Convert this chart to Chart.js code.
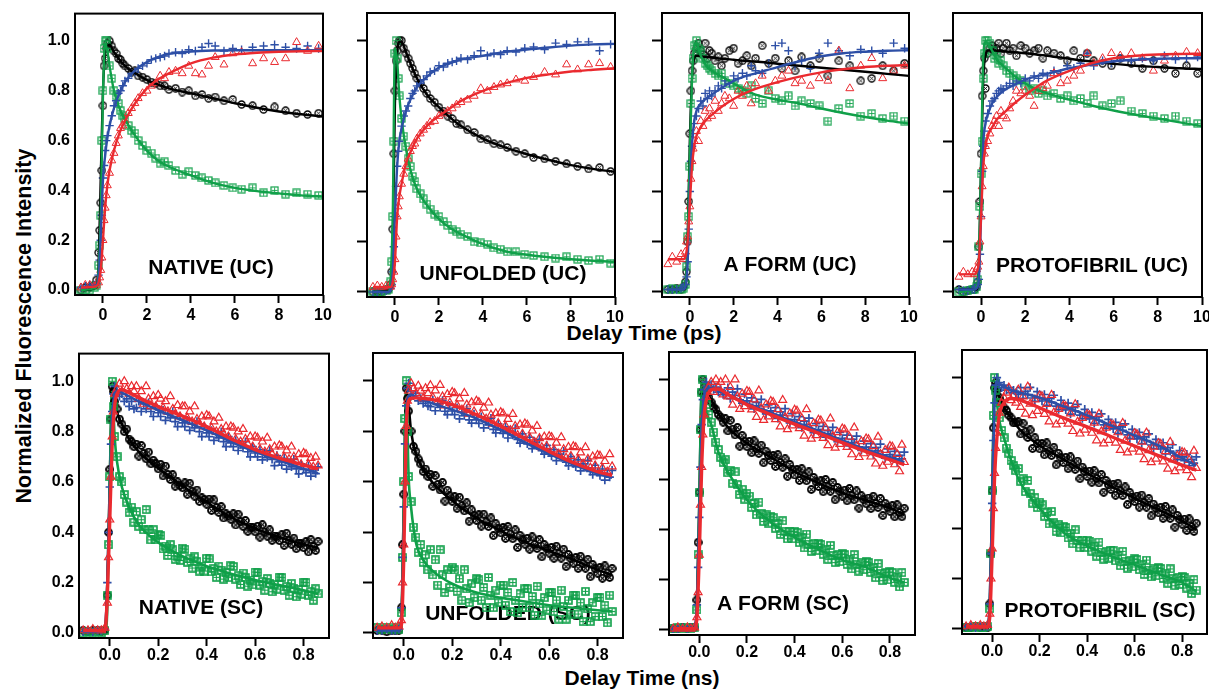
<!DOCTYPE html>
<html>
<head>
<meta charset="utf-8">
<title>Fluorescence decay panels</title>
<script src="https://cdn.jsdelivr.net/npm/chart.js@4.4.1/dist/chart.umd.min.js"></script>
<style>
  body { margin: 0; background: #fff; }
  #page { position: relative; width: 1209px; height: 689px; overflow: hidden; background: #fff; }
  #page canvas { position: absolute; }
  .title { position: absolute; font: bold 21px "Liberation Sans", Arial, sans-serif; color: #000; white-space: nowrap; line-height: 21px; }
</style>
</head>
<body>
<div id="page">
  <div class="title" style="left:644px; top:322px; transform:translateX(-50%)">Delay Time (ps)</div>
  <div class="title" style="left:642px; top:667px; transform:translateX(-50%)">Delay Time (ns)</div>
  <div class="title" style="left:24px; top:326px; font-size:21.5px; transform:translate(-50%,-50%) rotate(-90deg)">Normalized Fluorescence Intensity</div>
</div>
<script>
/************************/
/*     Data             */
/************************/

// tick labels
var ucTicks = [0, 2, 4, 6, 8, 10];
var scTicks = [0, 0.2, 0.4, 0.6, 0.8];
var yTicks = [0, 0.2, 0.4, 0.6, 0.8, 1.0];

// upconversion (ps) sampling
var ucTime = [-1.0, -0.8, -0.6, -0.4, -0.3, -0.2, -0.15, -0.1, -0.05, 0,
              0.05, 0.1, 0.15, 0.2, 0.3, 0.4, 0.5, 0.6, 0.7, 0.8,
              0.9, 1.0, 1.15, 1.3, 1.45, 1.6, 1.8, 2.0, 2.2, 2.4,
              2.6, 2.8, 3.0, 3.3, 3.6, 3.9, 4.2, 4.5, 4.8, 5.1,
              5.5, 5.9, 6.3, 6.8, 7.3, 7.8, 8.3, 8.8, 9.3, 9.8];
var ucFitTime = [-1.0, -0.3, -0.2, -0.1, 0, 0.1, 0.2, 0.3, 0.5, 0.75,
                 1.0, 1.5, 2.0, 2.5, 3.0, 4.0, 5.0, 6.0, 7.0, 8.0,
                 9.0, 10.0];

// single photon counting (ns) sampling
var scTime = [-0.11, -0.09, -0.07, -0.05, -0.035, -0.02, -0.01, -0.005, 0,
              0.005, 0.01, 0.015, 0.02, 0.03, 0.04, 0.05, 0.06, 0.07, 0.08, 0.09, 0.1,
              0.11, 0.12, 0.13, 0.14, 0.15, 0.16, 0.17, 0.18, 0.19, 0.2,
              0.21, 0.22, 0.23, 0.24, 0.25, 0.26, 0.27, 0.28, 0.29, 0.3,
              0.31, 0.32, 0.33, 0.34, 0.35, 0.36, 0.37, 0.38, 0.39, 0.4,
              0.41, 0.42, 0.43, 0.44, 0.45, 0.46, 0.47, 0.48, 0.49, 0.5,
              0.51, 0.52, 0.53, 0.54, 0.55, 0.56, 0.57, 0.58, 0.59, 0.6,
              0.61, 0.62, 0.63, 0.64, 0.65, 0.66, 0.67, 0.68, 0.69, 0.7,
              0.71, 0.72, 0.73, 0.74, 0.75, 0.76, 0.77, 0.78, 0.79, 0.8,
              0.81, 0.82, 0.83, 0.84, 0.85, 0.86];
var scFitTime = [-0.11, -0.02, -0.01, 0, 0.01, 0.02, 0.03, 0.05, 0.08, 0.12,
                 0.2, 0.3, 0.4, 0.5, 0.6, 0.7, 0.8, 0.86];

// NATIVE (UC)
var nativeUcBlack = [0.0, 0.01, 0.01, 0.02, 0.04, 0.15, 0.24, 0.35, 0.48, 0.74,
                     0.9, 0.93, 0.97, 0.99, 1.0, 0.98, 0.96, 0.95, 0.93, 0.925,
                     0.91, 0.9, 0.89, 0.875, 0.88, 0.86, 0.855, 0.845, 0.835, 0.83,
                     0.82, 0.82, 0.805, 0.81, 0.795, 0.8, 0.78, 0.785, 0.77, 0.775,
                     0.76, 0.765, 0.745, 0.74, 0.725, 0.735, 0.72, 0.71, 0.705, 0.71];
var nativeUcBlue = [0.01, 0.015, 0.02, 0.02, 0.025, 0.06, 0.12, 0.2, 0.3, 0.45,
                    0.5, 0.56, 0.6, 0.62, 0.66, 0.7, 0.74, 0.76, 0.79, 0.8,
                    0.82, 0.84, 0.85, 0.87, 0.875, 0.89, 0.9, 0.91, 0.925, 0.93,
                    0.935, 0.94, 0.95, 0.955, 0.95, 0.965, 0.96, 0.975, 0.99, 0.98,
                    0.96, 0.97, 0.965, 0.975, 0.98, 0.985, 0.975, 0.97, 0.98, 0.97];
var nativeUcRed = [0.01, 0.02, 0.02, 0.015, 0.02, 0.03, 0.05, 0.08, 0.13, 0.2,
                   0.28, 0.33, 0.38, 0.42, 0.47, 0.52, 0.55, 0.59, 0.62, 0.65,
                   0.66, 0.68, 0.71, 0.73, 0.75, 0.77, 0.79, 0.8, 0.82, 0.83,
                   0.86, 0.85, 0.875, 0.88, 0.87, 0.9, 0.87, 0.865, 0.9, 0.935,
                   0.905, 0.95, 0.955, 0.91, 0.93, 0.915, 0.93, 0.995, 0.96, 0.98];
var nativeUcGreen = [0.0, 0.0, 0.0, 0.01, 0.02, 0.1, 0.18, 0.3, 0.6, 0.8,
                     0.97, 1.0, 1.0, 0.97, 0.9, 0.85, 0.8, 0.78, 0.75, 0.72,
                     0.7, 0.69, 0.66, 0.64, 0.63, 0.6, 0.58, 0.56, 0.55, 0.53,
                     0.51, 0.515, 0.5, 0.48, 0.465, 0.475, 0.46, 0.45, 0.44, 0.43,
                     0.42, 0.41, 0.405, 0.41, 0.39, 0.4, 0.385, 0.39, 0.385, 0.38];
var nativeUcBlackFit = [0, 0.01, 0.1, 0.45, 0.8, 0.95, 0.978, 0.985, 0.955, 0.925,
                        0.9, 0.868, 0.843, 0.825, 0.81, 0.79, 0.77, 0.75, 0.732, 0.717, 0.706, 0.697];
var nativeUcBlueFit = [0.01, 0.02, 0.05, 0.22, 0.44, 0.54, 0.61, 0.66, 0.73, 0.79,
                       0.835, 0.885, 0.915, 0.935, 0.948, 0.958, 0.962, 0.963, 0.963, 0.963, 0.963, 0.963];
var nativeUcRedFit = [0.01, 0.015, 0.03, 0.08, 0.2, 0.33, 0.42, 0.48, 0.56, 0.63,
                      0.68, 0.755, 0.81, 0.845, 0.87, 0.91, 0.933, 0.946, 0.953, 0.957, 0.959, 0.96];
var nativeUcGreenFit = [0, 0.01, 0.08, 0.3, 0.78, 0.99, 0.96, 0.9, 0.8, 0.73,
                        0.685, 0.615, 0.56, 0.52, 0.495, 0.46, 0.43, 0.41, 0.397, 0.388, 0.38, 0.375];

// UNFOLDED (UC)
var unfoldedUcBlack = [0.0, 0.0, 0.0, 0.01, 0.01, 0.03, 0.08, 0.25, 0.55, 0.8,
                       0.92, 0.96, 0.99, 1.0, 1.0, 0.97, 0.95, 0.93, 0.91, 0.89,
                       0.87, 0.85, 0.83, 0.81, 0.79, 0.77, 0.755, 0.735, 0.72, 0.7,
                       0.69, 0.67, 0.665, 0.645, 0.635, 0.61, 0.605, 0.59, 0.585, 0.575,
                       0.56, 0.55, 0.535, 0.53, 0.52, 0.51, 0.5, 0.49, 0.495, 0.48];
var unfoldedUcBlue = [0.0, 0.0, 0.005, 0.005, 0.01, 0.015, 0.03, 0.08, 0.18, 0.3,
                      0.42, 0.5, 0.56, 0.6, 0.66, 0.7, 0.72, 0.74, 0.77, 0.79,
                      0.8, 0.82, 0.83, 0.845, 0.86, 0.875, 0.88, 0.9, 0.895, 0.91,
                      0.915, 0.92, 0.93, 0.925, 0.94, 0.96, 0.94, 0.95, 0.945, 0.96,
                      0.955, 0.97, 0.975, 0.965, 0.99, 0.985, 0.995, 0.995, 0.96, 0.985];
var unfoldedUcRed = [0.02, 0.025, 0.02, 0.025, 0.02, 0.02, 0.03, 0.05, 0.08, 0.13,
                     0.22, 0.3, 0.34, 0.38, 0.43, 0.47, 0.5, 0.53, 0.56, 0.58,
                     0.59, 0.61, 0.63, 0.645, 0.66, 0.675, 0.68, 0.7, 0.71, 0.72,
                     0.73, 0.745, 0.755, 0.765, 0.78, 0.81, 0.8, 0.815, 0.825, 0.83,
                     0.845, 0.84, 0.855, 0.875, 0.865, 0.905, 0.885, 0.905, 0.91, 0.895];
var unfoldedUcGreen = [0.0, 0.0, 0.0, 0.005, 0.01, 0.04, 0.12, 0.3, 0.6, 0.95,
                       1.0, 0.93, 0.85, 0.78, 0.69, 0.62, 0.58, 0.53, 0.5, 0.46,
                       0.44, 0.41, 0.39, 0.37, 0.35, 0.33, 0.31, 0.3, 0.28, 0.265,
                       0.25, 0.24, 0.23, 0.22, 0.2, 0.195, 0.19, 0.175, 0.17, 0.16,
                       0.16, 0.15, 0.145, 0.14, 0.135, 0.14, 0.13, 0.125, 0.13, 0.115];
var unfoldedUcBlackFit = [0, 0.005, 0.02, 0.2, 0.75, 0.95, 0.995, 0.995, 0.955, 0.9,
                          0.85, 0.78, 0.735, 0.695, 0.66, 0.61, 0.575, 0.548, 0.525, 0.505, 0.49, 0.478];
var unfoldedUcBlueFit = [0, 0, 0.01, 0.08, 0.3, 0.5, 0.6, 0.65, 0.72, 0.775,
                         0.815, 0.86, 0.893, 0.91, 0.925, 0.94, 0.955, 0.965, 0.973, 0.98, 0.985, 0.987];
var unfoldedUcRedFit = [0.02, 0.02, 0.02, 0.04, 0.12, 0.3, 0.38, 0.43, 0.51, 0.565,
                        0.61, 0.665, 0.7, 0.73, 0.76, 0.8, 0.83, 0.852, 0.866, 0.877, 0.884, 0.89];
var unfoldedUcGreenFit = [0, 0, 0.05, 0.3, 0.97, 0.92, 0.78, 0.69, 0.57, 0.47,
                          0.41, 0.34, 0.29, 0.255, 0.23, 0.19, 0.162, 0.148, 0.138, 0.13, 0.124, 0.12];

// A FORM (UC)
var aformUcBlack = [0.01, 0.01, 0.015, 0.01, 0.02, 0.04, 0.08, 0.2, 0.36, 0.63,
                    0.8, 0.88, 0.92, 0.95, 0.97, 0.99, 0.96, 0.945, 0.99, 0.93,
                    0.96, 0.95, 0.92, 0.935, 0.9, 0.93, 0.96, 0.97, 0.91, 0.92,
                    0.94, 0.9, 0.93, 0.98, 0.91, 0.93, 0.89, 0.92, 0.88, 0.935,
                    0.9, 0.93, 0.86, 0.92, 0.9, 0.84, 0.85, 0.9, 0.88, 0.91];
var aformUcBlue = [0.01, 0.01, 0.01, 0.015, 0.02, 0.03, 0.06, 0.12, 0.25, 0.4,
                   0.52, 0.58, 0.63, 0.67, 0.7, 0.73, 0.76, 0.74, 0.79, 0.77,
                   0.8, 0.78, 0.8, 0.82, 0.81, 0.84, 0.83, 0.86, 0.85, 0.87,
                   0.86, 0.9, 0.88, 0.87, 0.91, 0.98, 0.99, 0.96, 0.9, 0.92,
                   0.89, 0.95, 0.99, 0.96, 0.94, 0.965, 0.96, 0.95, 0.99, 0.97];
var aformUcRed = [0.11, 0.14, 0.12, 0.15, 0.13, 0.16, 0.2, 0.22, 0.28, 0.34,
                  0.45, 0.52, 0.57, 0.6, 0.64, 0.6, 0.68, 0.66, 0.72, 0.69,
                  0.73, 0.7, 0.76, 0.72, 0.75, 0.78, 0.77, 0.74, 0.8, 0.78,
                  0.82, 0.75, 0.83, 0.86, 0.8, 0.84, 0.86, 0.88, 0.83, 0.84,
                  0.82, 0.85, 0.84, 0.96, 0.81, 0.9, 0.93, 0.85, 0.88, 0.9];
var aformUcGreen = [0.01, 0.015, 0.01, 0.01, 0.015, 0.03, 0.1, 0.22, 0.3, 0.5,
                    0.75, 0.85, 0.93, 0.98, 1.0, 0.97, 0.96, 0.93, 0.91, 0.9,
                    0.89, 0.88, 0.87, 0.86, 0.87, 0.84, 0.83, 0.82, 0.81, 0.8,
                    0.79, 0.82, 0.77, 0.75, 0.8, 0.77, 0.76, 0.78, 0.74, 0.76,
                    0.75, 0.74, 0.68, 0.73, 0.75, 0.7, 0.71, 0.69, 0.7, 0.68];
var aformUcBlackFit = [0.01, 0.01, 0.02, 0.2, 0.6, 0.85, 0.93, 0.94, 0.938, 0.935,
                       0.933, 0.928, 0.924, 0.92, 0.917, 0.908, 0.9, 0.892, 0.884, 0.876, 0.868, 0.86];
var aformUcBlueFit = [0.01, 0.01, 0.02, 0.12, 0.4, 0.59, 0.68, 0.72, 0.75, 0.77,
                      0.785, 0.815, 0.84, 0.858, 0.87, 0.895, 0.918, 0.938, 0.95, 0.956, 0.96, 0.962];
var aformUcRedFit = [0.13, 0.13, 0.14, 0.2, 0.35, 0.5, 0.58, 0.62, 0.655, 0.685,
                     0.705, 0.74, 0.768, 0.79, 0.808, 0.835, 0.857, 0.874, 0.886, 0.895, 0.9, 0.903];
var aformUcGreenFit = [0.01, 0.01, 0.03, 0.2, 0.55, 0.85, 0.98, 0.99, 0.94, 0.9,
                       0.88, 0.855, 0.83, 0.805, 0.785, 0.765, 0.75, 0.73, 0.712, 0.696, 0.682, 0.67];

// PROTOFIBRIL (UC)
var protoUcBlack = [0.01, 0.0, 0.005, 0.01, 0.01, 0.02, 0.04, 0.18, 0.36, 0.55,
                    0.78, 0.88, 0.93, 0.81, 0.95, 0.97, 0.98, 0.96, 0.97, 0.99,
                    0.95, 0.97, 0.99, 0.96, 0.97, 0.94, 0.98, 0.97, 0.95, 0.96,
                    0.97, 0.93, 0.96, 0.95, 0.94, 0.92, 0.96, 0.93, 0.95, 0.92,
                    0.91, 0.9, 0.93, 0.91, 0.89, 0.92, 0.89, 0.87, 0.9, 0.87];
var protoUcBlue = [0.01, 0.005, 0.005, 0.01, 0.01, 0.02, 0.03, 0.05, 0.15, 0.3,
                   0.48, 0.58, 0.64, 0.68, 0.71, 0.74, 0.76, 0.77, 0.79, 0.8,
                   0.81, 0.805, 0.82, 0.83, 0.82, 0.84, 0.83, 0.85, 0.84, 0.86,
                   0.85, 0.87, 0.86, 0.88, 0.87, 0.9, 0.89, 0.91, 0.95, 0.9,
                   0.92, 0.91, 0.93, 0.92, 0.93, 0.92, 0.94, 0.925, 0.93, 0.935];
var protoUcRed = [0.06, 0.08, 0.07, 0.08, 0.07, 0.09, 0.1, 0.12, 0.2, 0.3,
                  0.42, 0.5, 0.55, 0.58, 0.6, 0.63, 0.66, 0.68, 0.7, 0.66,
                  0.72, 0.7, 0.69, 0.73, 0.76, 0.8, 0.79, 0.8, 0.78, 0.74,
                  0.8, 0.81, 0.82, 0.87, 0.83, 0.84, 0.86, 0.88, 0.95, 0.91,
                  0.93, 0.95, 0.94, 0.95, 0.93, 0.88, 0.92, 0.94, 0.955, 0.95];
var protoUcGreen = [0.0, 0.0, 0.005, 0.01, 0.01, 0.02, 0.05, 0.18, 0.34, 0.47,
                    0.6, 0.85, 0.95, 1.0, 1.0, 0.99, 0.96, 0.93, 0.94, 0.91,
                    0.92, 0.9, 0.88, 0.87, 0.86, 0.85, 0.84, 0.82, 0.8, 0.81,
                    0.79, 0.8, 0.78, 0.79, 0.77, 0.78, 0.76, 0.77, 0.75, 0.78,
                    0.74, 0.75, 0.76, 0.72, 0.71, 0.7, 0.69, 0.7, 0.68, 0.67];
var protoUcBlackFit = [0.01, 0.01, 0.01, 0.1, 0.5, 0.85, 0.94, 0.96, 0.962, 0.96,
                       0.958, 0.954, 0.95, 0.945, 0.94, 0.928, 0.917, 0.908, 0.9, 0.895, 0.89, 0.887];
var protoUcBlueFit = [0.01, 0.01, 0.015, 0.05, 0.3, 0.59, 0.67, 0.705, 0.75, 0.78,
                      0.8, 0.825, 0.845, 0.858, 0.868, 0.89, 0.905, 0.918, 0.924, 0.928, 0.93, 0.93];
var protoUcRedFit = [0.07, 0.07, 0.08, 0.12, 0.3, 0.5, 0.58, 0.62, 0.655, 0.69,
                     0.71, 0.75, 0.785, 0.815, 0.842, 0.88, 0.91, 0.93, 0.94, 0.945, 0.947, 0.948];
var protoUcGreenFit = [0, 0.01, 0.02, 0.1, 0.5, 0.93, 0.995, 0.99, 0.96, 0.92,
                       0.9, 0.86, 0.83, 0.806, 0.79, 0.765, 0.742, 0.722, 0.705, 0.69, 0.675, 0.66];

// NATIVE (SC)
var nativeScRed = [0.01, 0.01, 0.015, 0.01, 0.01, 0.02, 0.12, 0.3, 0.45,
                   0.62, 0.78, 0.88, 0.95, 0.97, 0.99, 0.96, 1.0, 0.97, 0.95, 0.98, 0.96,
                   0.98, 0.93, 0.96, 0.91, 0.98, 0.93, 0.9, 0.94, 0.9, 0.945,
                   0.93, 0.895, 0.92, 0.88, 0.94, 0.89, 0.87, 0.905, 0.86, 0.9,
                   0.9, 0.855, 0.88, 0.84, 0.9, 0.85, 0.83, 0.86, 0.82, 0.865,
                   0.86, 0.815, 0.84, 0.8, 0.855, 0.81, 0.79, 0.82, 0.78, 0.82,
                   0.815, 0.77, 0.8, 0.76, 0.81, 0.77, 0.75, 0.78, 0.74, 0.78,
                   0.775, 0.73, 0.76, 0.72, 0.775, 0.73, 0.71, 0.74, 0.7, 0.745,
                   0.74, 0.7, 0.725, 0.69, 0.74, 0.7, 0.68, 0.71, 0.67, 0.715,
                   0.71, 0.67, 0.695, 0.66, 0.7, 0.665];
var nativeScBlue = [0.005, 0.01, 0.005, 0.01, 0.01, 0.015, 0.2, 0.4, 0.58,
                    0.75, 0.88, 0.95, 0.98, 0.96, 0.94, 0.95, 0.92, 0.93, 0.9, 0.92, 0.89,
                    0.895, 0.92, 0.88, 0.91, 0.89, 0.915, 0.88, 0.86, 0.9, 0.875,
                    0.86, 0.885, 0.845, 0.87, 0.855, 0.88, 0.84, 0.82, 0.86, 0.835,
                    0.82, 0.845, 0.805, 0.83, 0.815, 0.84, 0.8, 0.78, 0.82, 0.795,
                    0.78, 0.805, 0.765, 0.79, 0.775, 0.8, 0.76, 0.74, 0.78, 0.755,
                    0.74, 0.765, 0.725, 0.75, 0.735, 0.76, 0.72, 0.7, 0.74, 0.715,
                    0.7, 0.728, 0.688, 0.714, 0.697, 0.725, 0.69, 0.665, 0.705, 0.68,
                    0.667, 0.694, 0.651, 0.678, 0.66, 0.69, 0.652, 0.632, 0.672, 0.65,
                    0.637, 0.665, 0.623, 0.648, 0.633, 0.66];
var nativeScBlack = [0.01, 0.005, 0.01, 0.01, 0.005, 0.01, 0.15, 0.4, 0.65,
                     0.85, 0.98, 0.96, 0.92, 0.89, 0.85, 0.83, 0.8, 0.81, 0.77, 0.76, 0.74,
                     0.75, 0.703, 0.745, 0.713, 0.692, 0.719, 0.672, 0.686, 0.673, 0.652,
                     0.67, 0.624, 0.663, 0.63, 0.61, 0.629, 0.583, 0.6, 0.587, 0.577,
                     0.596, 0.551, 0.595, 0.563, 0.544, 0.568, 0.523, 0.537, 0.53, 0.512,
                     0.532, 0.487, 0.529, 0.498, 0.479, 0.502, 0.457, 0.473, 0.465, 0.452,
                     0.473, 0.429, 0.472, 0.442, 0.424, 0.447, 0.404, 0.421, 0.42, 0.402,
                     0.424, 0.381, 0.43, 0.401, 0.385, 0.41, 0.368, 0.385, 0.383, 0.367,
                     0.39, 0.348, 0.396, 0.368, 0.353, 0.377, 0.335, 0.356, 0.355, 0.339,
                     0.363, 0.322, 0.371, 0.343, 0.328, 0.364];
var nativeScGreen = [0.0, 0.005, 0.0, 0.005, 0.0, 0.01, 0.15, 0.35, 0.62,
                     0.85, 1.0, 0.9, 0.78, 0.7, 0.62, 0.6, 0.55, 0.52, 0.48, 0.5, 0.44,
                     0.482, 0.424, 0.45, 0.41, 0.49, 0.41, 0.37, 0.41, 0.37, 0.392,
                     0.387, 0.334, 0.345, 0.308, 0.351, 0.33, 0.293, 0.305, 0.288, 0.337,
                     0.333, 0.281, 0.294, 0.258, 0.302, 0.283, 0.246, 0.266, 0.246, 0.297,
                     0.294, 0.243, 0.256, 0.221, 0.265, 0.249, 0.214, 0.24, 0.22, 0.267,
                     0.264, 0.214, 0.227, 0.193, 0.238, 0.22, 0.186, 0.21, 0.191, 0.242,
                     0.24, 0.19, 0.204, 0.17, 0.216, 0.198, 0.164, 0.192, 0.174, 0.222,
                     0.22, 0.17, 0.184, 0.15, 0.196, 0.178, 0.144, 0.172, 0.154, 0.202,
                     0.2, 0.15, 0.164, 0.13, 0.175, 0.155];
var nativeScBlackFit = [0.01, 0.01, 0.2, 0.6, 0.95, 0.95, 0.88, 0.83, 0.77, 0.72,
                        0.655, 0.585, 0.52, 0.46, 0.415, 0.38, 0.352, 0.338];
var nativeScBlueFit = [0.005, 0.01, 0.2, 0.55, 0.85, 0.95, 0.96, 0.955, 0.94, 0.92,
                       0.885, 0.845, 0.805, 0.76, 0.72, 0.685, 0.652, 0.635];
var nativeScRedFit = [0.01, 0.01, 0.15, 0.45, 0.75, 0.9, 0.95, 0.967, 0.955, 0.935,
                      0.9, 0.862, 0.82, 0.772, 0.728, 0.695, 0.668, 0.652];
var nativeScGreenFit = [0, 0, 0.1, 0.6, 0.98, 0.78, 0.68, 0.58, 0.5, 0.43,
                        0.36, 0.305, 0.265, 0.235, 0.21, 0.19, 0.17, 0.155];

// UNFOLDED (SC)
var unfoldedScRed = [0.02, 0.025, 0.02, 0.03, 0.02, 0.025, 0.05, 0.2, 0.35,
                     0.6, 0.82, 0.92, 0.96, 0.99, 0.97, 0.95, 0.98, 0.96, 0.93, 0.97, 0.95,
                     0.982, 0.934, 0.961, 0.916, 0.983, 0.937, 0.901, 0.946, 0.913, 0.955,
                     0.95, 0.903, 0.929, 0.885, 0.951, 0.905, 0.869, 0.914, 0.878, 0.92,
                     0.915, 0.866, 0.893, 0.849, 0.913, 0.865, 0.829, 0.871, 0.832, 0.875,
                     0.87, 0.821, 0.848, 0.804, 0.868, 0.82, 0.784, 0.826, 0.789, 0.83,
                     0.825, 0.775, 0.802, 0.757, 0.82, 0.772, 0.736, 0.778, 0.741, 0.78,
                     0.776, 0.727, 0.754, 0.71, 0.776, 0.728, 0.694, 0.737, 0.701, 0.74,
                     0.736, 0.688, 0.715, 0.671, 0.736, 0.69, 0.655, 0.699, 0.664, 0.705,
                     0.702, 0.654, 0.681, 0.639, 0.708, 0.66];
var unfoldedScBlue = [0.01, 0.01, 0.015, 0.01, 0.01, 0.015, 0.1, 0.3, 0.5,
                      0.75, 0.9, 0.97, 0.99, 0.96, 0.94, 0.95, 0.92, 0.93, 0.91, 0.92, 0.9,
                      0.897, 0.924, 0.881, 0.908, 0.895, 0.922, 0.879, 0.866, 0.903, 0.88,
                      0.866, 0.893, 0.849, 0.876, 0.862, 0.889, 0.845, 0.832, 0.868, 0.845,
                      0.831, 0.857, 0.813, 0.839, 0.825, 0.851, 0.807, 0.793, 0.829, 0.805,
                      0.791, 0.817, 0.773, 0.799, 0.785, 0.811, 0.767, 0.753, 0.789, 0.765,
                      0.75, 0.776, 0.731, 0.757, 0.742, 0.768, 0.723, 0.709, 0.744, 0.715,
                      0.701, 0.727, 0.683, 0.709, 0.695, 0.721, 0.677, 0.663, 0.699, 0.672,
                      0.659, 0.686, 0.643, 0.67, 0.657, 0.684, 0.641, 0.628, 0.665, 0.638,
                      0.624, 0.65, 0.606, 0.632, 0.618, 0.645];
var unfoldedScBlack = [0.01, 0.01, 0.005, 0.01, 0.01, 0.01, 0.1, 0.35, 0.55,
                       0.8, 0.97, 0.93, 0.88, 0.8, 0.74, 0.72, 0.69, 0.67, 0.64, 0.65, 0.62,
                       0.629, 0.581, 0.624, 0.589, 0.567, 0.597, 0.523, 0.566, 0.544, 0.522,
                       0.54, 0.494, 0.538, 0.505, 0.484, 0.516, 0.443, 0.488, 0.467, 0.447,
                       0.468, 0.424, 0.471, 0.44, 0.422, 0.456, 0.386, 0.433, 0.415, 0.397,
                       0.418, 0.375, 0.422, 0.392, 0.374, 0.409, 0.339, 0.387, 0.369, 0.352,
                       0.375, 0.332, 0.381, 0.351, 0.335, 0.37, 0.302, 0.35, 0.334, 0.317,
                       0.339, 0.296, 0.344, 0.314, 0.297, 0.332, 0.263, 0.311, 0.294, 0.277,
                       0.299, 0.256, 0.304, 0.274, 0.257, 0.292, 0.223, 0.271, 0.254, 0.237,
                       0.26, 0.217, 0.266, 0.237, 0.22, 0.256];
var unfoldedScGreen = [0.02, 0.015, 0.02, 0.015, 0.02, 0.015, 0.08, 0.3, 0.6,
                       0.85, 1.0, 0.8, 0.62, 0.52, 0.42, 0.38, 0.32, 0.35, 0.28, 0.31, 0.25,
                       0.33, 0.23, 0.29, 0.19, 0.33, 0.23, 0.16, 0.25, 0.18, 0.26,
                       0.25, 0.165, 0.215, 0.13, 0.25, 0.175, 0.12, 0.195, 0.14, 0.215,
                       0.21, 0.13, 0.18, 0.1, 0.22, 0.15, 0.1, 0.17, 0.12, 0.19,
                       0.19, 0.11, 0.16, 0.085, 0.2, 0.13, 0.08, 0.155, 0.1, 0.175,
                       0.175, 0.1, 0.145, 0.07, 0.185, 0.115, 0.07, 0.14, 0.09, 0.16,
                       0.16, 0.085, 0.13, 0.055, 0.17, 0.105, 0.055, 0.13, 0.075, 0.15,
                       0.15, 0.075, 0.12, 0.045, 0.165, 0.095, 0.045, 0.12, 0.065, 0.14,
                       0.14, 0.065, 0.11, 0.04, 0.15, 0.085];
var unfoldedScBlackFit = [0.01, 0.01, 0.05, 0.5, 0.95, 0.9, 0.8, 0.71, 0.65, 0.595,
                          0.525, 0.455, 0.405, 0.36, 0.325, 0.29, 0.25, 0.23];
var unfoldedScBlueFit = [0.01, 0.01, 0.05, 0.4, 0.85, 0.94, 0.945, 0.935, 0.925, 0.91,
                         0.885, 0.85, 0.805, 0.755, 0.71, 0.668, 0.632, 0.615];
var unfoldedScRedFit = [0.02, 0.02, 0.03, 0.3, 0.8, 0.92, 0.93, 0.932, 0.93, 0.925,
                        0.905, 0.865, 0.82, 0.77, 0.72, 0.675, 0.64, 0.625];
var unfoldedScGreenFit = [0.015, 0.015, 0.05, 0.5, 0.98, 0.62, 0.5, 0.36, 0.29, 0.245,
                          0.195, 0.16, 0.14, 0.125, 0.11, 0.1, 0.09, 0.085];

// A FORM (SC)
var aformScRed = [0.005, 0.01, 0.005, 0.01, 0.005, 0.01, 0.05, 0.15, 0.3,
                  0.5, 0.65, 0.78, 0.86, 0.93, 0.97, 0.99, 0.95, 1.0, 0.97, 0.99, 0.94,
                  1.0, 0.932, 0.97, 0.899, 1.0, 0.932, 0.882, 0.943, 0.893, 0.954,
                  0.95, 0.88, 0.92, 0.85, 0.956, 0.886, 0.838, 0.9, 0.852, 0.914,
                  0.91, 0.841, 0.881, 0.812, 0.918, 0.849, 0.801, 0.864, 0.816, 0.879,
                  0.875, 0.805, 0.845, 0.775, 0.881, 0.811, 0.763, 0.825, 0.777, 0.839,
                  0.836, 0.766, 0.807, 0.737, 0.844, 0.774, 0.727, 0.789, 0.742, 0.804,
                  0.8, 0.73, 0.771, 0.701, 0.808, 0.738, 0.69, 0.753, 0.705, 0.764,
                  0.761, 0.692, 0.733, 0.664, 0.771, 0.702, 0.655, 0.718, 0.671, 0.734,
                  0.731, 0.661, 0.702, 0.633, 0.739, 0.67];
var aformScBlue = [0.005, 0.005, 0.01, 0.005, 0.01, 0.01, 0.1, 0.25, 0.45,
                   0.65, 0.82, 0.92, 0.96, 0.99, 0.97, 0.98, 0.96, 0.97, 0.95, 0.96, 0.94,
                   0.941, 0.967, 0.924, 0.95, 0.937, 0.963, 0.919, 0.906, 0.942, 0.915,
                   0.901, 0.927, 0.883, 0.909, 0.895, 0.921, 0.877, 0.863, 0.899, 0.875,
                   0.862, 0.888, 0.845, 0.871, 0.858, 0.884, 0.841, 0.827, 0.864, 0.84,
                   0.826, 0.852, 0.808, 0.834, 0.82, 0.846, 0.802, 0.788, 0.824, 0.8,
                   0.787, 0.813, 0.77, 0.796, 0.783, 0.809, 0.766, 0.752, 0.789, 0.765,
                   0.752, 0.778, 0.735, 0.761, 0.748, 0.774, 0.731, 0.717, 0.754, 0.73,
                   0.717, 0.744, 0.701, 0.728, 0.715, 0.742, 0.699, 0.686, 0.723, 0.7,
                   0.687, 0.713, 0.67, 0.697, 0.683, 0.71];
var aformScBlack = [0.005, 0.005, 0.01, 0.005, 0.01, 0.01, 0.12, 0.35, 0.55,
                    0.8, 0.95, 1.0, 0.97, 0.94, 0.93, 0.91, 0.89, 0.88, 0.86, 0.85, 0.83,
                    0.843, 0.795, 0.837, 0.802, 0.779, 0.809, 0.734, 0.777, 0.754, 0.732,
                    0.753, 0.708, 0.755, 0.723, 0.705, 0.738, 0.668, 0.714, 0.696, 0.677,
                    0.697, 0.653, 0.7, 0.669, 0.65, 0.684, 0.614, 0.661, 0.642, 0.619,
                    0.64, 0.597, 0.644, 0.614, 0.596, 0.631, 0.561, 0.609, 0.591, 0.573,
                    0.595, 0.552, 0.601, 0.571, 0.554, 0.589, 0.52, 0.569, 0.552, 0.535,
                    0.558, 0.516, 0.565, 0.536, 0.52, 0.555, 0.487, 0.536, 0.52, 0.504,
                    0.527, 0.485, 0.534, 0.505, 0.489, 0.525, 0.457, 0.506, 0.49, 0.474,
                    0.496, 0.452, 0.5, 0.469, 0.452, 0.486];
var aformScGreen = [0.005, 0.01, 0.005, 0.01, 0.005, 0.01, 0.08, 0.3, 0.55,
                    0.8, 0.95, 1.0, 0.97, 0.9, 0.86, 0.83, 0.79, 0.75, 0.72, 0.69, 0.67,
                    0.679, 0.628, 0.637, 0.586, 0.631, 0.58, 0.541, 0.562, 0.523, 0.544,
                    0.535, 0.49, 0.505, 0.46, 0.511, 0.466, 0.433, 0.46, 0.427, 0.454,
                    0.448, 0.406, 0.424, 0.382, 0.436, 0.394, 0.364, 0.394, 0.364, 0.394,
                    0.389, 0.349, 0.368, 0.328, 0.383, 0.343, 0.314, 0.346, 0.317, 0.346,
                    0.342, 0.302, 0.322, 0.282, 0.338, 0.297, 0.269, 0.301, 0.273, 0.304,
                    0.301, 0.262, 0.283, 0.244, 0.301, 0.262, 0.235, 0.268, 0.241, 0.274,
                    0.27, 0.23, 0.25, 0.209, 0.265, 0.225, 0.197, 0.229, 0.2, 0.232,
                    0.229, 0.19, 0.211, 0.172, 0.229, 0.19];
var aformScBlackFit = [0.005, 0.005, 0.1, 0.5, 0.95, 0.97, 0.95, 0.92, 0.865, 0.81,
                       0.745, 0.69, 0.632, 0.586, 0.548, 0.517, 0.487, 0.46];
var aformScBlueFit = [0.005, 0.005, 0.1, 0.45, 0.8, 0.93, 0.96, 0.965, 0.955, 0.94,
                      0.905, 0.868, 0.83, 0.795, 0.757, 0.72, 0.69, 0.67];
var aformScRedFit = [0.005, 0.005, 0.05, 0.3, 0.65, 0.85, 0.92, 0.96, 0.962, 0.94,
                     0.9, 0.86, 0.822, 0.786, 0.748, 0.712, 0.68, 0.66];
var aformScGreenFit = [0.005, 0.005, 0.08, 0.5, 0.95, 0.95, 0.87, 0.82, 0.71, 0.63,
                       0.52, 0.43, 0.37, 0.322, 0.28, 0.25, 0.208, 0.19];

// PROTOFIBRIL (SC)
var protoScRed = [0.01, 0.015, 0.01, 0.015, 0.01, 0.015, 0.06, 0.2, 0.32,
                  0.48, 0.62, 0.72, 0.78, 0.86, 0.9, 0.92, 0.94, 0.96, 0.91, 0.93, 0.9,
                  0.952, 0.883, 0.925, 0.856, 0.964, 0.896, 0.85, 0.913, 0.867, 0.929,
                  0.925, 0.855, 0.895, 0.825, 0.931, 0.861, 0.813, 0.875, 0.827, 0.889,
                  0.886, 0.816, 0.857, 0.787, 0.894, 0.824, 0.777, 0.839, 0.792, 0.854,
                  0.85, 0.78, 0.82, 0.75, 0.856, 0.786, 0.738, 0.8, 0.752, 0.814,
                  0.811, 0.741, 0.782, 0.712, 0.819, 0.749, 0.702, 0.764, 0.717, 0.779,
                  0.775, 0.705, 0.745, 0.675, 0.781, 0.711, 0.663, 0.725, 0.677, 0.739,
                  0.736, 0.666, 0.707, 0.637, 0.744, 0.674, 0.627, 0.689, 0.642, 0.704,
                  0.701, 0.631, 0.672, 0.603, 0.709, 0.64];
var protoScBlue = [0.01, 0.01, 0.005, 0.01, 0.01, 0.01, 0.1, 0.3, 0.5,
                   0.75, 0.9, 0.97, 1.0, 0.98, 0.96, 0.97, 0.95, 0.96, 0.94, 0.95, 0.94,
                   0.933, 0.96, 0.918, 0.945, 0.933, 0.961, 0.919, 0.906, 0.944, 0.92,
                   0.907, 0.933, 0.89, 0.917, 0.903, 0.93, 0.887, 0.873, 0.91, 0.886,
                   0.872, 0.899, 0.855, 0.882, 0.868, 0.894, 0.851, 0.837, 0.874, 0.85,
                   0.836, 0.862, 0.818, 0.844, 0.83, 0.856, 0.812, 0.798, 0.834, 0.81,
                   0.796, 0.822, 0.778, 0.804, 0.79, 0.816, 0.772, 0.758, 0.794, 0.77,
                   0.756, 0.782, 0.738, 0.764, 0.75, 0.776, 0.732, 0.718, 0.754, 0.73,
                   0.716, 0.741, 0.697, 0.722, 0.708, 0.733, 0.689, 0.674, 0.71, 0.685,
                   0.67, 0.695, 0.65, 0.675, 0.66, 0.685];
var protoScBlack = [0.005, 0.005, 0.01, 0.005, 0.01, 0.005, 0.1, 0.3, 0.55,
                    0.8, 0.96, 0.98, 0.95, 0.92, 0.9, 0.88, 0.87, 0.85, 0.84, 0.82, 0.82,
                    0.824, 0.776, 0.819, 0.784, 0.762, 0.792, 0.718, 0.761, 0.739, 0.717,
                    0.738, 0.693, 0.74, 0.708, 0.69, 0.723, 0.653, 0.699, 0.681, 0.662,
                    0.683, 0.638, 0.685, 0.653, 0.635, 0.668, 0.598, 0.644, 0.626, 0.607,
                    0.628, 0.584, 0.63, 0.599, 0.581, 0.615, 0.544, 0.591, 0.573, 0.555,
                    0.576, 0.532, 0.58, 0.549, 0.531, 0.565, 0.495, 0.543, 0.525, 0.507,
                    0.529, 0.485, 0.533, 0.502, 0.485, 0.519, 0.45, 0.497, 0.48, 0.462,
                    0.484, 0.44, 0.488, 0.457, 0.44, 0.474, 0.405, 0.452, 0.435, 0.417,
                    0.437, 0.392, 0.438, 0.407, 0.388, 0.421];
var protoScGreen = [0.005, 0.005, 0.01, 0.005, 0.005, 0.01, 0.08, 0.3, 0.55,
                    0.85, 1.0, 0.95, 0.9, 0.84, 0.79, 0.76, 0.72, 0.7, 0.67, 0.65, 0.63,
                    0.639, 0.588, 0.597, 0.546, 0.591, 0.54, 0.501, 0.522, 0.483, 0.504,
                    0.494, 0.449, 0.463, 0.418, 0.468, 0.423, 0.389, 0.416, 0.382, 0.409,
                    0.404, 0.362, 0.381, 0.339, 0.394, 0.352, 0.323, 0.353, 0.324, 0.354,
                    0.35, 0.31, 0.33, 0.29, 0.346, 0.306, 0.278, 0.31, 0.282, 0.314,
                    0.311, 0.271, 0.292, 0.252, 0.309, 0.269, 0.242, 0.274, 0.247, 0.279,
                    0.276, 0.236, 0.257, 0.217, 0.274, 0.234, 0.207, 0.239, 0.212, 0.244,
                    0.241, 0.201, 0.222, 0.182, 0.239, 0.199, 0.172, 0.204, 0.177, 0.209,
                    0.204, 0.163, 0.182, 0.141, 0.196, 0.155];
var protoScBlackFit = [0.005, 0.005, 0.1, 0.5, 0.97, 0.96, 0.925, 0.88, 0.84, 0.79,
                       0.73, 0.675, 0.62, 0.568, 0.52, 0.475, 0.43, 0.395];
var protoScBlueFit = [0.01, 0.01, 0.1, 0.5, 0.9, 0.98, 0.975, 0.965, 0.95, 0.94,
                      0.92, 0.886, 0.85, 0.81, 0.77, 0.73, 0.68, 0.65];
var protoScRedFit = [0.01, 0.01, 0.05, 0.3, 0.6, 0.76, 0.85, 0.9, 0.917, 0.91,
                     0.88, 0.84, 0.804, 0.766, 0.728, 0.69, 0.652, 0.632];
var protoScGreenFit = [0.005, 0.005, 0.08, 0.5, 0.98, 0.9, 0.83, 0.76, 0.67, 0.58,
                       0.48, 0.385, 0.33, 0.29, 0.255, 0.22, 0.185, 0.15];

/************************/
/*     Layout           */
/************************/

var FONT = '"Liberation Sans", Arial, sans-serif';
var BLACK = '#000000', BLUE = '#2d4fa6', RED = '#ea2a2f', GREEN = '#10a049';

// box = [left, top, right, bottom] of the plot frame on the page, at = label centre / baseline inside the frame
var panels = [
    { text: 'NATIVE (UC)', row: 'uc', box: [75, 13, 323, 295], at: [136, 260], yLabels: true,
      series: [nativeUcBlack, nativeUcBlue, nativeUcRed, nativeUcGreen],
      fits: [nativeUcBlackFit, nativeUcBlueFit, nativeUcRedFit, nativeUcGreenFit] },
    { text: 'UNFOLDED (UC)', row: 'uc', box: [367, 13, 615, 297], at: [136, 267],
      series: [unfoldedUcBlack, unfoldedUcBlue, unfoldedUcRed, unfoldedUcGreen],
      fits: [unfoldedUcBlackFit, unfoldedUcBlueFit, unfoldedUcRedFit, unfoldedUcGreenFit] },
    { text: 'A FORM (UC)', row: 'uc', box: [662, 13, 909, 297], at: [128, 258],
      series: [aformUcBlack, aformUcBlue, aformUcRed, aformUcGreen],
      fits: [aformUcBlackFit, aformUcBlueFit, aformUcRedFit, aformUcGreenFit] },
    { text: 'PROTOFIBRIL (UC)', row: 'uc', box: [953, 13, 1202, 297], at: [139, 259],
      series: [protoUcBlack, protoUcBlue, protoUcRed, protoUcGreen],
      fits: [protoUcBlackFit, protoUcBlueFit, protoUcRedFit, protoUcGreenFit] },
    { text: 'NATIVE (SC)', row: 'sc', box: [79, 353, 329, 638], at: [122, 260], yLabels: true,
      series: [nativeScBlack, nativeScBlue, nativeScRed, nativeScGreen],
      fits: [nativeScBlackFit, nativeScBlueFit, nativeScRedFit, nativeScGreenFit] },
    { text: 'UNFOLDED (SC)', row: 'sc', box: [373, 353, 623, 638], at: [135, 267],
      series: [unfoldedScBlack, unfoldedScBlue, unfoldedScRed, unfoldedScGreen],
      fits: [unfoldedScBlackFit, unfoldedScBlueFit, unfoldedScRedFit, unfoldedScGreenFit] },
    { text: 'A FORM (SC)', row: 'sc', box: [669, 352, 915, 635], at: [114, 258],
      series: [aformScBlack, aformScBlue, aformScRed, aformScGreen],
      fits: [aformScBlackFit, aformScBlueFit, aformScRedFit, aformScGreenFit] },
    { text: 'PROTOFIBRIL (SC)', row: 'sc', box: [962, 350, 1207, 634], at: [138, 267],
      series: [protoScBlack, protoScBlue, protoScRed, protoScGreen],
      fits: [protoScBlackFit, protoScBlueFit, protoScRedFit, protoScGreenFit] }
];

/************************/
/*     Markers          */
/************************/

function makeMarker(size, draw) {
    var c = document.createElement('canvas');
    c.width = size;
    c.height = size;
    draw(c.getContext('2d'), size);
    return c;
}

// open circle with a little hatching, like the black trace
function circleMark(lw) {
    return makeMarker(9, function(g, s) {
        g.strokeStyle = BLACK;
        g.lineWidth = lw;
        g.beginPath();
        g.arc(s / 2, s / 2, s / 2 - 1, 0, Math.PI * 2);
        g.stroke();
        g.lineWidth = lw * 0.65;
        g.beginPath();
        g.moveTo(2.6, 2.6); g.lineTo(s - 2.6, s - 2.6);
        g.moveTo(s - 2.6, 2.6); g.lineTo(2.6, s - 2.6);
        g.stroke();
    });
}

// square with a cross inside, like the green trace
function squareMark(lw) {
    return makeMarker(9, function(g, s) {
        g.strokeStyle = GREEN;
        g.lineWidth = lw;
        g.strokeRect(1, 1, s - 2, s - 2);
        g.lineWidth = lw * 0.75;
        g.beginPath();
        g.moveTo(s / 2, 1.5); g.lineTo(s / 2, s - 1.5);
        g.moveTo(1.5, s / 2); g.lineTo(s - 1.5, s / 2);
        g.stroke();
    });
}

var rows = {
    uc: { time: ucTime, fitTime: ucFitTime, xMin: -1.27, xMax: 10, xTicks: ucTicks, digits: 0, labelPad: 3,
          lineW: 2.4, redW: 2.4, circle: circleMark(1.3), square: squareMark(1.2), crossW: 1.4, triW: 1, fitsOnTop: true },
    sc: { time: scTime, fitTime: scFitTime, xMin: -0.127, xMax: 0.905, xTicks: scTicks, digits: 1, labelPad: 0,
          lineW: 2.6, redW: 3.4, circle: circleMark(1.8), square: squareMark(1.6), crossW: 1.7, triW: 1.2, fitsOnTop: false }
};

function points(xs, ys) {
    return ys.map(function(y, i) { return { x: xs[i], y: y }; });
}

/************************/
/*     Plugins          */
/************************/

var framePlugin = {
    id: 'frame',
    beforeDatasetsDraw: function(chart, args, opts) {
        var a = chart.chartArea, ctx = chart.ctx;
        ctx.save();
        ctx.font = 'bold 21px ' + FONT;
        ctx.fillStyle = '#000';
        ctx.textAlign = 'center';
        ctx.textBaseline = 'alphabetic';
        ctx.fillText(opts.text, a.left + opts.at[0], a.top + opts.at[1]);
        ctx.restore();
    },
    afterDatasetsDraw: function(chart) {
        var a = chart.chartArea, ctx = chart.ctx;
        ctx.save();
        ctx.strokeStyle = '#000';
        ctx.lineWidth = 2;
        ctx.strokeRect(a.left, a.top, a.right - a.left, a.bottom - a.top);
        ctx.restore();
    }
};

/************************/
/*     Charts           */
/************************/

var PAD_L = 52, PAD_T = 14, PAD_R = 14, AX_H = 34;
var page = document.getElementById('page');

panels.forEach(function(p) {
    var r = rows[p.row];
    var w = p.box[2] - p.box[0], h = p.box[3] - p.box[1];

    var cv = document.createElement('canvas');
    cv.width = w + PAD_L + PAD_R;
    cv.height = h + PAD_T + AX_H;
    cv.style.left = (p.box[0] - PAD_L) + 'px';
    cv.style.top = (p.box[1] - PAD_T) + 'px';
    page.appendChild(cv);

    var black = p.series[0], blue = p.series[1], red = p.series[2], green = p.series[3];

    var blackFit = { data: points(r.fitTime, p.fits[0]), showLine: true, pointRadius: 0, borderColor: BLACK, borderWidth: r.lineW };
    var greenFit = { data: points(r.fitTime, p.fits[3]), showLine: true, pointRadius: 0, borderColor: GREEN, borderWidth: r.lineW };
    var markers = [
        { data: points(r.time, black), pointStyle: r.circle, pointRadius: 4.5 },
        { data: points(r.time, green), pointStyle: r.square, pointRadius: 4.5 },
        { data: points(r.time, blue), pointStyle: 'cross', pointRadius: 4.2, borderColor: BLUE, borderWidth: r.crossW },
        { data: points(r.time, red), pointStyle: 'triangle', pointRadius: 4.6, borderColor: RED, backgroundColor: 'rgba(0,0,0,0)', borderWidth: r.triW }
    ];

    // listed bottom layer first, reversed below so the last one is drawn on top
    var layers = r.fitsOnTop ? markers.concat([blackFit, greenFit]) : [blackFit, greenFit].concat(markers);
    layers.push({ data: points(r.fitTime, p.fits[1]), showLine: true, pointRadius: 0, borderColor: BLUE, borderWidth: r.lineW });
    layers.push({ data: points(r.fitTime, p.fits[2]), showLine: true, pointRadius: 0, borderColor: RED, borderWidth: r.redW });
    layers.forEach(function(d) {
        d.cubicInterpolationMode = 'monotone';
        d.fill = false;
        if (!d.borderColor) { d.borderColor = BLACK; }
    });

    new Chart(cv, {
        type: 'scatter',
        data: { datasets: layers.reverse() },
        plugins: [framePlugin],
        options: {
            responsive: false,
            animation: false,
            devicePixelRatio: 1,
            events: [],
            layout: { padding: { left: 0, top: PAD_T, right: PAD_R, bottom: 0 } },
            plugins: {
                legend: { display: false },
                tooltip: { enabled: false },
                frame: { text: p.text, at: p.at }
            },
            scales: {
                x: {
                    type: 'linear',
                    min: r.xMin,
                    max: r.xMax,
                    afterBuildTicks: function(s) { s.ticks = r.xTicks.map(function(v) { return { value: v }; }); },
                    afterFit: function(s) { s.height = AX_H; },
                    border: { display: false },
                    grid: { drawOnChartArea: false, drawTicks: true, tickLength: 8, tickWidth: 2, tickColor: '#000' },
                    ticks: {
                        color: '#000',
                        padding: r.labelPad,
                        maxRotation: 0,
                        autoSkip: false,
                        font: { family: FONT, size: 16, weight: 'bold' },
                        callback: function(v) { return v.toFixed(r.digits); }
                    }
                },
                y: {
                    type: 'linear',
                    min: -0.02,
                    max: 1.11,
                    afterBuildTicks: function(s) { s.ticks = yTicks.map(function(v) { return { value: v }; }); },
                    afterFit: function(s) { s.width = PAD_L; },
                    border: { display: false },
                    grid: { drawOnChartArea: false, drawTicks: !p.yLabels, tickLength: 10, tickWidth: 2, tickColor: '#000' },
                    ticks: {
                        display: !!p.yLabels,
                        color: '#000',
                        padding: 5,
                        font: { family: FONT, size: 16, weight: 'bold' },
                        callback: function(v) { return v.toFixed(1); }
                    }
                }
            }
        }
    });
});
</script>
</body>
</html>
